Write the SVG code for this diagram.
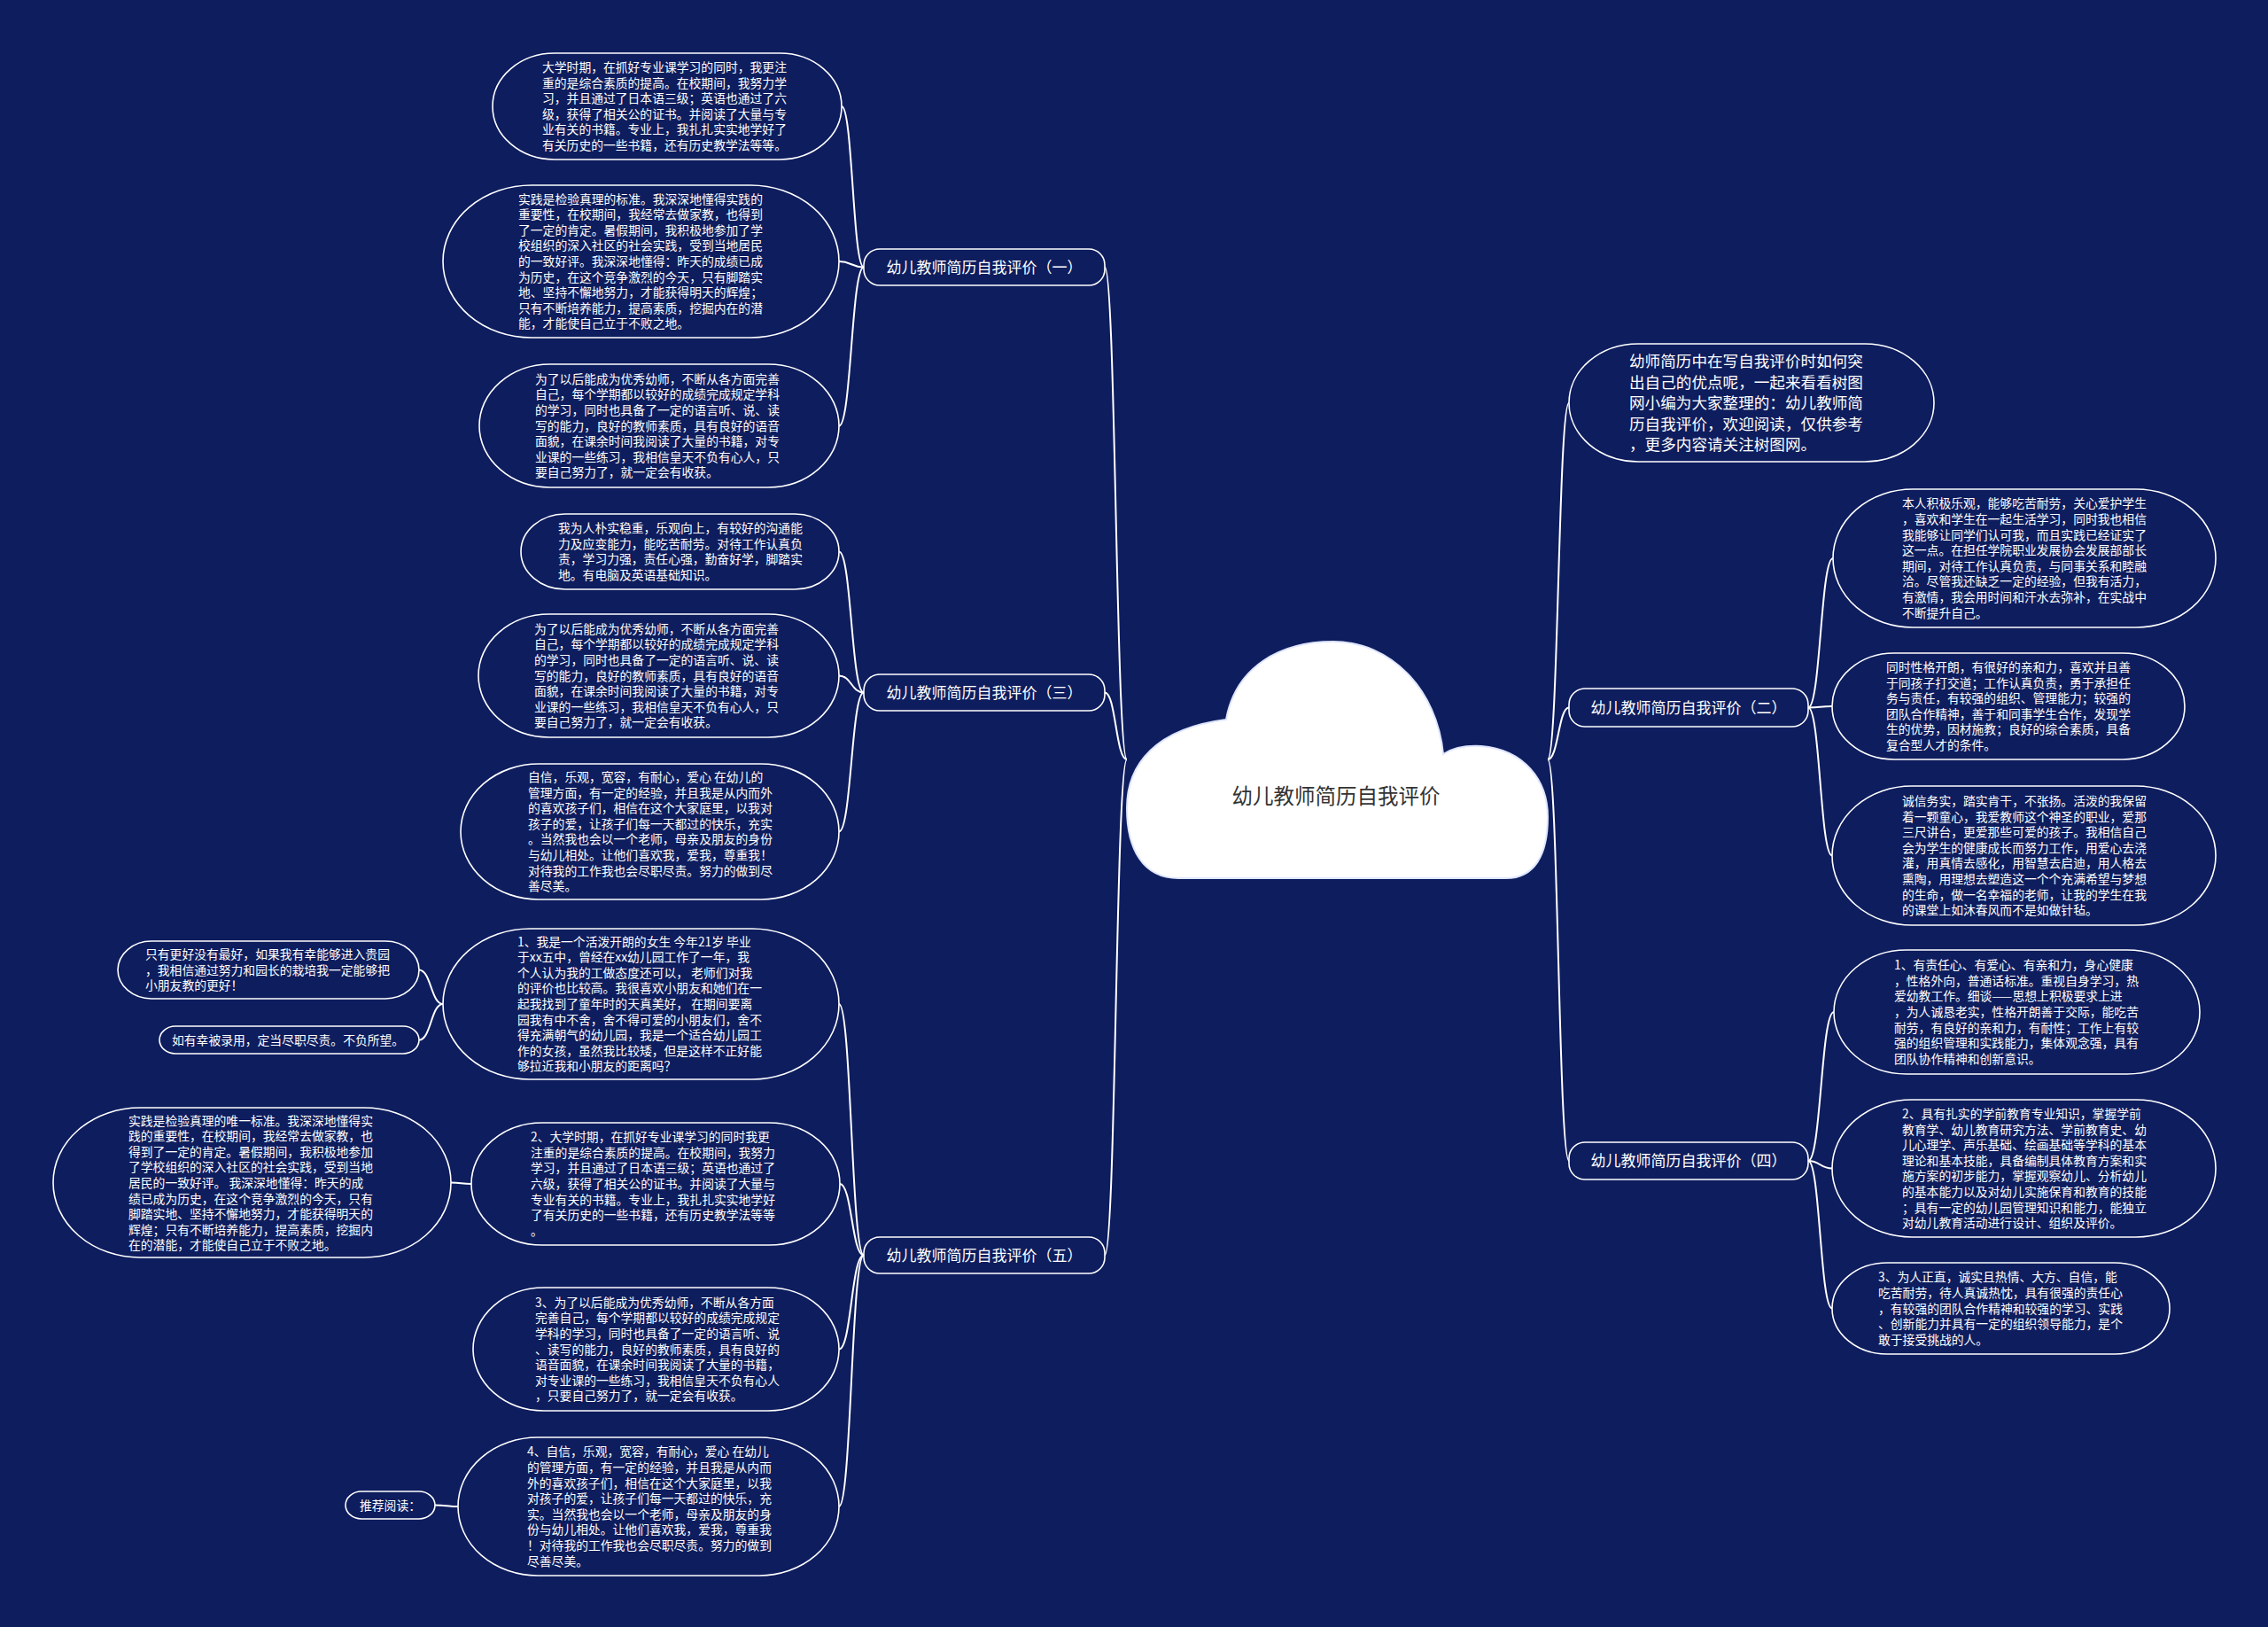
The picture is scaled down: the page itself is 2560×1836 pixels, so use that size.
<svg xmlns="http://www.w3.org/2000/svg" width="2560" height="1836" viewBox="0 0 2560 1836">
<style>
.bg{fill:#0e1d5e}
.box{fill:#0e1d5e;stroke:#ffffff;stroke-width:1.6}
.link{fill:none;stroke:#ffffff;stroke-width:2}
.t{font-family:"Noto Sans CJK SC","Noto Sans",sans-serif;font-size:13.8px;fill:#ffffff}
.tb{font-family:"Noto Sans CJK SC","Noto Sans",sans-serif;font-size:17px;fill:#ffffff}
.ti{font-family:"Noto Sans CJK SC","Noto Sans",sans-serif;font-size:17.6px;fill:#ffffff}
.tc{font-family:"Noto Sans CJK SC","Noto Sans",sans-serif;font-size:23.5px;fill:#333333}
</style>
<rect class="bg" x="0" y="0" width="2560" height="1836"/>

<g id="connectors">
<path class="link" d="M1272 857 C1259.5 857 1259.5 301.5 1247 301.5"/>
<path class="link" d="M1272 857 C1259.5 857 1259.5 781.5 1247 781.5"/>
<path class="link" d="M1272 857 C1259.5 857 1259.5 1416.5 1247 1416.5"/>
<path class="link" d="M1747 857 C1759 857 1759 454.5 1771 454.5"/>
<path class="link" d="M1747 857 C1759 857 1759 798.5 1771 798.5"/>
<path class="link" d="M1747 857 C1759 857 1759 1310 1771 1310"/>
<path class="link" d="M975 301.5 C962.5 301.5 962.5 120 950 120"/>
<path class="link" d="M975 301.5 C961 301.5 961 295 947 295"/>
<path class="link" d="M975 301.5 C961 301.5 961 480.5 947 480.5"/>
<path class="link" d="M975 781.5 C961 781.5 961 622.5 947 622.5"/>
<path class="link" d="M975 781.5 C961 781.5 961 762.5 947 762.5"/>
<path class="link" d="M975 781.5 C961 781.5 961 938.5 947 938.5"/>
<path class="link" d="M975 1416.5 C961 1416.5 961 1133 947 1133"/>
<path class="link" d="M975 1416.5 C961.5 1416.5 961.5 1336 948 1336"/>
<path class="link" d="M975 1416.5 C961 1416.5 961 1522.5 947 1522.5"/>
<path class="link" d="M975 1416.5 C961 1416.5 961 1700 947 1700"/>
<path class="link" d="M500 1133 C486.5 1133 486.5 1094.5 473 1094.5"/>
<path class="link" d="M500 1133 C486.5 1133 486.5 1173.5 473 1173.5"/>
<path class="link" d="M532 1336 C520.5 1336 520.5 1334.5 509 1334.5"/>
<path class="link" d="M517 1700 C504 1700 504 1698.5 491 1698.5"/>
<path class="link" d="M2041 798.5 C2055 798.5 2055 630 2069 630"/>
<path class="link" d="M2041 798.5 C2054.5 798.5 2054.5 797 2068 797"/>
<path class="link" d="M2041 798.5 C2054.5 798.5 2054.5 965.5 2068 965.5"/>
<path class="link" d="M2041 1310 C2055.5 1310 2055.5 1142 2070 1142"/>
<path class="link" d="M2041 1310 C2054.5 1310 2054.5 1318.5 2068 1318.5"/>
<path class="link" d="M2041 1310 C2054.5 1310 2054.5 1476.5 2068 1476.5"/>
</g>

<g id="center">
<path d="M1330 991 C1290 991 1272 958 1272 912 C1272 862 1305 822 1384 812 C1395 752 1445 724 1505 724 C1570 724 1622 778 1629 851 C1640 844 1655 841 1672 842 C1720 846 1747 880 1747 922 C1747 965 1732 991 1700 991 Z" fill="#ffffff" stroke="#dfe6ff" stroke-width="2"/>
<text class="tc" x="1508" y="907" text-anchor="middle">幼儿教师简历自我评价</text>
</g>

<g id="b1"><rect class="box" x="975" y="281" width="272" height="41" rx="18" ry="18"/><text class="tb" x="1111" y="307.5" text-anchor="middle">幼儿教师简历自我评价（一）</text></g>
<g id="b3"><rect class="box" x="975" y="761" width="272" height="41" rx="18" ry="18"/><text class="tb" x="1111" y="787.5" text-anchor="middle">幼儿教师简历自我评价（三）</text></g>
<g id="b5"><rect class="box" x="975" y="1396" width="272" height="41" rx="18" ry="18"/><text class="tb" x="1111" y="1422.5" text-anchor="middle">幼儿教师简历自我评价（五）</text></g>
<g id="b2"><rect class="box" x="1771" y="777" width="270" height="43" rx="18" ry="18"/><text class="tb" x="1906" y="804.5" text-anchor="middle">幼儿教师简历自我评价（二）</text></g>
<g id="b4"><rect class="box" x="1771" y="1289" width="270" height="42" rx="18" ry="18"/><text class="tb" x="1906" y="1316" text-anchor="middle">幼儿教师简历自我评价（四）</text></g>

<g id="intro"><rect class="box" x="1771" y="388" width="412" height="133" rx="78" ry="66.5"/>
<text class="ti"><tspan x="1839" y="414">幼师简历中在写自我评价时如何突</tspan><tspan x="1839" y="437.5">出自己的优点呢，一起来看看树图</tspan><tspan x="1839" y="461">网小编为大家整理的：幼儿教师简</tspan><tspan x="1839" y="484.5">历自我评价，欢迎阅读，仅供参考</tspan><tspan x="1839" y="508">，更多内容请关注树图网。</tspan></text></g>

<g id="l1"><rect class="box" x="556" y="60" width="394" height="120" rx="70" ry="60"/>
<text class="t"><tspan x="612" y="81">大学时期，在抓好专业课学习的同时，我更注</tspan><tspan x="612" y="98.6">重的是综合素质的提高。在校期间，我努力学</tspan><tspan x="612" y="116.2">习，并且通过了日本语三级；英语也通过了六</tspan><tspan x="612" y="133.8">级，获得了相关公的证书。并阅读了大量与专</tspan><tspan x="612" y="151.4">业有关的书籍。专业上，我扎扎实实地学好了</tspan><tspan x="612" y="169">有关历史的一些书籍，还有历史教学法等等。</tspan></text></g>

<g id="l2"><rect class="box" x="500" y="209" width="447" height="172" rx="100" ry="86"/>
<text class="t"><tspan x="585" y="229.6">实践是检验真理的标准。我深深地懂得实践的</tspan><tspan x="585" y="247.2">重要性，在校期间，我经常去做家教，也得到</tspan><tspan x="585" y="264.8">了一定的肯定。暑假期间，我积极地参加了学</tspan><tspan x="585" y="282.4">校组织的深入社区的社会实践，受到当地居民</tspan><tspan x="585" y="300">的一致好评。我深深地懂得：昨天的成绩已成</tspan><tspan x="585" y="317.6">为历史，在这个竞争激烈的今天，只有脚踏实</tspan><tspan x="585" y="335.2">地、坚持不懈地努力，才能获得明天的辉煌；</tspan><tspan x="585" y="352.8">只有不断培养能力，提高素质，挖掘内在的潜</tspan><tspan x="585" y="370.4">能，才能使自己立于不败之地。</tspan></text></g>

<g id="l3"><rect class="box" x="541" y="411" width="406" height="139" rx="80" ry="69.5"/>
<text class="t"><tspan x="604" y="432.7">为了以后能成为优秀幼师，不断从各方面完善</tspan><tspan x="604" y="450.3">自己，每个学期都以较好的成绩完成规定学科</tspan><tspan x="604" y="467.9">的学习，同时也具备了一定的语言听、说、读</tspan><tspan x="604" y="485.5">写的能力，良好的教师素质，具有良好的语音</tspan><tspan x="604" y="503.1">面貌，在课余时间我阅读了大量的书籍，对专</tspan><tspan x="604" y="520.7">业课的一些练习，我相信皇天不负有心人，只</tspan><tspan x="604" y="538.3">要自己努力了，就一定会有收获。</tspan></text></g>

<g id="l4"><rect class="box" x="588" y="580" width="359" height="85" rx="50" ry="42.5"/>
<text class="t"><tspan x="630" y="601.1">我为人朴实稳重，乐观向上，有较好的沟通能</tspan><tspan x="630" y="618.7">力及应变能力，能吃苦耐劳。对待工作认真负</tspan><tspan x="630" y="636.3">责，学习力强，责任心强，勤奋好学，脚踏实</tspan><tspan x="630" y="653.9">地。有电脑及英语基础知识。</tspan></text></g>

<g id="l5"><rect class="box" x="540" y="693" width="407" height="139" rx="80" ry="69.5"/>
<text class="t"><tspan x="603" y="714.7">为了以后能成为优秀幼师，不断从各方面完善</tspan><tspan x="603" y="732.3">自己，每个学期都以较好的成绩完成规定学科</tspan><tspan x="603" y="749.9">的学习，同时也具备了一定的语言听、说、读</tspan><tspan x="603" y="767.5">写的能力，良好的教师素质，具有良好的语音</tspan><tspan x="603" y="785.1">面貌，在课余时间我阅读了大量的书籍，对专</tspan><tspan x="603" y="802.7">业课的一些练习，我相信皇天不负有心人，只</tspan><tspan x="603" y="820.3">要自己努力了，就一定会有收获。</tspan></text></g>

<g id="l6"><rect class="box" x="520" y="862" width="427" height="153" rx="88" ry="76.5"/>
<text class="t"><tspan x="596" y="881.9">自信，乐观，宽容，有耐心，爱心 在幼儿的</tspan><tspan x="596" y="899.5">管理方面，有一定的经验，并且我是从内而外</tspan><tspan x="596" y="917.1">的喜欢孩子们，相信在这个大家庭里，以我对</tspan><tspan x="596" y="934.7">孩子的爱，让孩子们每一天都过的快乐，充实</tspan><tspan x="596" y="952.3">。当然我也会以一个老师，母亲及朋友的身份</tspan><tspan x="596" y="969.9">与幼儿相处。让他们喜欢我，爱我，尊重我！</tspan><tspan x="596" y="987.5">对待我的工作我也会尽职尽责。努力的做到尽</tspan><tspan x="596" y="1005.1">善尽美。</tspan></text></g>

<g id="l7"><rect class="box" x="500" y="1048" width="447" height="170" rx="98" ry="85"/>
<text class="t"><tspan x="584" y="1067.6">1、我是一个活泼开朗的女生 今年21岁 毕业</tspan><tspan x="584" y="1085.2">于xx五中，曾经在xx幼儿园工作了一年，我</tspan><tspan x="584" y="1102.8">个人认为我的工做态度还可以， 老师们对我</tspan><tspan x="584" y="1120.4">的评价也比较高。我很喜欢小朋友和她们在一</tspan><tspan x="584" y="1138">起我找到了童年时的天真美好， 在期间要离</tspan><tspan x="584" y="1155.6">园我有中不舍，舍不得可爱的小朋友们，舍不</tspan><tspan x="584" y="1173.2">得充满朝气的幼儿园，我是一个适合幼儿园工</tspan><tspan x="584" y="1190.8">作的女孩，虽然我比较矮，但是这样不正好能</tspan><tspan x="584" y="1208.4">够拉近我和小朋友的距离吗？</tspan></text></g>

<g id="ll1"><rect class="box" x="133" y="1062" width="340" height="65" rx="38" ry="32.5"/>
<text class="t"><tspan x="164" y="1081.9">只有更好没有最好，如果我有幸能够进入贵园</tspan><tspan x="164" y="1099.5">，我相信通过努力和园长的栽培我一定能够把</tspan><tspan x="164" y="1117.1">小朋友教的更好！</tspan></text></g>

<g id="ll2"><rect class="box" x="180" y="1158" width="293" height="31" rx="18" ry="15.5"/>
<text class="t" x="194" y="1178.5">如有幸被录用，定当尽职尽责。不负所望。</text></g>

<g id="l8"><rect class="box" x="532" y="1267" width="416" height="138" rx="80" ry="69"/>
<text class="t"><tspan x="599" y="1288.2">2、大学时期，在抓好专业课学习的同时我更</tspan><tspan x="599" y="1305.8">注重的是综合素质的提高。在校期间，我努力</tspan><tspan x="599" y="1323.4">学习，并且通过了日本语三级；英语也通过了</tspan><tspan x="599" y="1341">六级，获得了相关公的证书。并阅读了大量与</tspan><tspan x="599" y="1358.6">专业有关的书籍。专业上，我扎扎实实地学好</tspan><tspan x="599" y="1376.2">了有关历史的一些书籍，还有历史教学法等等</tspan><tspan x="599" y="1393.8">。</tspan></text></g>

<g id="ll3"><rect class="box" x="60" y="1250" width="449" height="169" rx="98" ry="84.5"/>
<text class="t"><tspan x="145" y="1269.6">实践是检验真理的唯一标准。我深深地懂得实</tspan><tspan x="145" y="1287.2">践的重要性，在校期间，我经常去做家教，也</tspan><tspan x="145" y="1304.8">得到了一定的肯定。暑假期间，我积极地参加</tspan><tspan x="145" y="1322.4">了学校组织的深入社区的社会实践，受到当地</tspan><tspan x="145" y="1340">居民的一致好评。 我深深地懂得：昨天的成</tspan><tspan x="145" y="1357.6">绩已成为历史，在这个竞争激烈的今天，只有</tspan><tspan x="145" y="1375.2">脚踏实地、坚持不懈地努力，才能获得明天的</tspan><tspan x="145" y="1392.8">辉煌；只有不断培养能力，提高素质，挖掘内</tspan><tspan x="145" y="1410.4">在的潜能，才能使自己立于不败之地。</tspan></text></g>

<g id="l9"><rect class="box" x="534" y="1453" width="413" height="139" rx="80" ry="69.5"/>
<text class="t"><tspan x="604" y="1474.7">3、为了以后能成为优秀幼师，不断从各方面</tspan><tspan x="604" y="1492.3">完善自己，每个学期都以较好的成绩完成规定</tspan><tspan x="604" y="1509.9">学科的学习，同时也具备了一定的语言听、说</tspan><tspan x="604" y="1527.5">、读写的能力，良好的教师素质，具有良好的</tspan><tspan x="604" y="1545.1">语音面貌，在课余时间我阅读了大量的书籍，</tspan><tspan x="604" y="1562.7">对专业课的一些练习，我相信皇天不负有心人</tspan><tspan x="604" y="1580.3">，只要自己努力了，就一定会有收获。</tspan></text></g>

<g id="l10"><rect class="box" x="517" y="1622" width="430" height="156" rx="90" ry="78"/>
<text class="t"><tspan x="595" y="1643.4">4、自信，乐观，宽容，有耐心，爱心 在幼儿</tspan><tspan x="595" y="1661">的管理方面，有一定的经验，并且我是从内而</tspan><tspan x="595" y="1678.6">外的喜欢孩子们，相信在这个大家庭里，以我</tspan><tspan x="595" y="1696.2">对孩子的爱，让孩子们每一天都过的快乐，充</tspan><tspan x="595" y="1713.8">实。当然我也会以一个老师，母亲及朋友的身</tspan><tspan x="595" y="1731.4">份与幼儿相处。让他们喜欢我，爱我，尊重我</tspan><tspan x="595" y="1749">！对待我的工作我也会尽职尽责。努力的做到</tspan><tspan x="595" y="1766.6">尽善尽美。</tspan></text></g>

<g id="rec"><rect class="box" x="390" y="1683" width="101" height="31" rx="18" ry="15.5"/>
<text class="t" x="406" y="1703.5">推荐阅读：</text></g>

<g id="r1"><rect class="box" x="2069" y="552" width="432" height="156" rx="90" ry="78"/>
<text class="t"><tspan x="2147" y="573.4">本人积极乐观，能够吃苦耐劳，关心爱护学生</tspan><tspan x="2147" y="591">，喜欢和学生在一起生活学习，同时我也相信</tspan><tspan x="2147" y="608.6">我能够让同学们认可我，而且实践已经证实了</tspan><tspan x="2147" y="626.2">这一点。在担任学院职业发展协会发展部部长</tspan><tspan x="2147" y="643.8">期间，对待工作认真负责，与同事关系和睦融</tspan><tspan x="2147" y="661.4">洽。尽管我还缺乏一定的经验，但我有活力，</tspan><tspan x="2147" y="679">有激情，我会用时间和汗水去弥补，在实战中</tspan><tspan x="2147" y="696.6">不断提升自己。</tspan></text></g>

<g id="r2"><rect class="box" x="2068" y="737" width="398" height="120" rx="70" ry="60"/>
<text class="t"><tspan x="2129" y="758">同时性格开朗，有很好的亲和力，喜欢并且善</tspan><tspan x="2129" y="775.6">于同孩子打交道；工作认真负责，勇于承担任</tspan><tspan x="2129" y="793.2">务与责任，有较强的组织、管理能力；较强的</tspan><tspan x="2129" y="810.8">团队合作精神，善于和同事学生合作，发现学</tspan><tspan x="2129" y="828.4">生的优势，因材施教；良好的综合素质，具备</tspan><tspan x="2129" y="846">复合型人才的条件。</tspan></text></g>

<g id="r3"><rect class="box" x="2068" y="887" width="433" height="157" rx="90" ry="78.5"/>
<text class="t"><tspan x="2147" y="908.9">诚信务实，踏实肯干，不张扬。活泼的我保留</tspan><tspan x="2147" y="926.5">着一颗童心，我爱教师这个神圣的职业，爱那</tspan><tspan x="2147" y="944.1">三尺讲台，更爱那些可爱的孩子。我相信自己</tspan><tspan x="2147" y="961.7">会为学生的健康成长而努力工作，用爱心去浇</tspan><tspan x="2147" y="979.3">灌，用真情去感化，用智慧去启迪，用人格去</tspan><tspan x="2147" y="996.9">熏陶，用理想去塑造这一个个充满希望与梦想</tspan><tspan x="2147" y="1014.5">的生命，做一名幸福的老师，让我的学生在我</tspan><tspan x="2147" y="1032.1">的课堂上如沐春风而不是如做针毡。</tspan></text></g>

<g id="r4"><rect class="box" x="2070" y="1072" width="413" height="140" rx="82" ry="70"/>
<text class="t"><tspan x="2138" y="1094.2">1、有责任心、有爱心、有亲和力，身心健康</tspan><tspan x="2138" y="1111.8">，性格外向，普通话标准。重视自身学习，热</tspan><tspan x="2138" y="1129.4">爱幼教工作。细谈——思想上积极要求上进</tspan><tspan x="2138" y="1147">，为人诚恳老实，性格开朗善于交际，能吃苦</tspan><tspan x="2138" y="1164.6">耐劳，有良好的亲和力，有耐性；工作上有较</tspan><tspan x="2138" y="1182.2">强的组织管理和实践能力，集体观念强，具有</tspan><tspan x="2138" y="1199.8">团队协作精神和创新意识。</tspan></text></g>

<g id="r5"><rect class="box" x="2068" y="1241" width="433" height="155" rx="90" ry="77.5"/>
<text class="t"><tspan x="2147" y="1261.9">2、具有扎实的学前教育专业知识，掌握学前</tspan><tspan x="2147" y="1279.5">教育学、幼儿教育研究方法、学前教育史、幼</tspan><tspan x="2147" y="1297.1">儿心理学、声乐基础、绘画基础等学科的基本</tspan><tspan x="2147" y="1314.7">理论和基本技能，具备编制具体教育方案和实</tspan><tspan x="2147" y="1332.3">施方案的初步能力，掌握观察幼儿、分析幼儿</tspan><tspan x="2147" y="1349.9">的基本能力以及对幼儿实施保育和教育的技能</tspan><tspan x="2147" y="1367.5">；具有一定的幼儿园管理知识和能力，能独立</tspan><tspan x="2147" y="1385.1">对幼儿教育活动进行设计、组织及评价。</tspan></text></g>

<g id="r6"><rect class="box" x="2068" y="1425" width="381" height="103" rx="62" ry="51.5"/>
<text class="t"><tspan x="2120" y="1446.3">3、为人正直，诚实且热情、大方、自信，能</tspan><tspan x="2120" y="1463.9">吃苦耐劳，待人真诚热忱，具有很强的责任心</tspan><tspan x="2120" y="1481.5">，有较强的团队合作精神和较强的学习、实践</tspan><tspan x="2120" y="1499.1">、创新能力并具有一定的组织领导能力，是个</tspan><tspan x="2120" y="1516.7">敢于接受挑战的人。</tspan></text></g>
</svg>
